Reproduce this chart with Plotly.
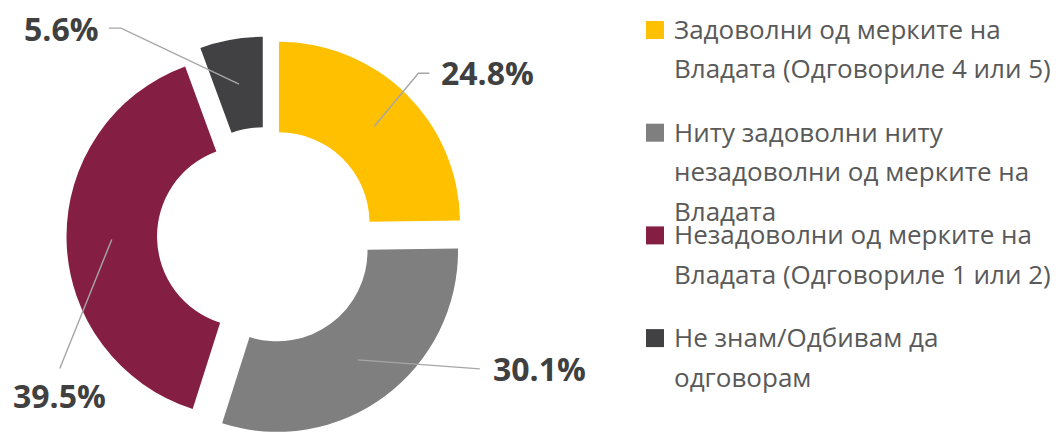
import math
import plotly.graph_objects as go

# ---- data ----
labels = [
    "Задоволни од мерките на<br>Владата (Одговориле 4 или 5)",
    "Ниту задоволни ниту<br>незадоволни од мерките на<br>Владата",
    "Незадоволни од мерките на<br>Владата (Одговориле 1 или 2)",
    "Не знам/Одбивам да<br>одговорам",
]
values = [24.8, 30.1, 39.5, 5.6]
value_text = ["24.8%", "30.1%", "39.5%", "5.6%"]
colors = ["#FFC000", "#7F7F7F", "#841F43", "#414042"]

# ---- style / layout constants ----
# the page body adds an 8px margin, so the figure is 8px smaller than the window
W, H = 1056, 429
DOM_X = [0.0, 0.48864]
DOM_Y = [0.0035, 0.93356]
PULL = 0.102
HOLE = 0.5
FONT = "Open Sans"
LABEL_FONT = dict(family=FONT, size=32, color="#404040", weight="bold")
LEGEND_FONT = dict(family=FONT, size=26, color="#595959")
LINE_COLOR = "#A6A6A6"

# legend layout (figure pixels)
LEG_SQ_X = 638
LEG_SQ = 18
LEG_TEXT_X = 664
LEG_TOP = 22
LEG_ITEM_STEP = 102.7
LEG_LINE_STEP = 39.5

fig = go.Figure()
fig.add_trace(go.Pie(
    labels=[l.replace("<br>", " ") for l in labels],
    values=values,
    marker=dict(colors=colors, line=dict(width=0)),
    hole=HOLE,
    pull=[PULL] * len(values),
    sort=False,
    direction="clockwise",
    rotation=0,
    textinfo="none",
    hoverinfo="label+percent",
    showlegend=False,
    domain=dict(x=DOM_X, y=DOM_Y),
))

# geometry derived from the pie's domain (same rule plotly uses)
cx = W * (DOM_X[0] + DOM_X[1]) / 2
cy = H * (1 - (DOM_Y[0] + DOM_Y[1]) / 2)
R = min(W * (DOM_X[1] - DOM_X[0]), H * (DOM_Y[1] - DOM_Y[0])) / 2 / (1 + PULL)
r_mid = PULL * R + (R + HOLE * R) / 2

# label placement offsets (pixels, relative to slice anchor)
label_place = [
    dict(path=[(44, -53), (55, -53)], text=(65, -54), xanchor="left"),
    dict(path=[(122, 9)], text=(133, 9), xanchor="left"),
    dict(path=[(-52, 129)], text=(-52, 156), xanchor="center"),
    dict(path=[(-118, -56), (-130, -56)], text=(-138, -56), xanchor="right"),
]


def px_to_paper(x, y):
    return x / W, 1 - y / H


total = sum(values)
cum = 0.0
shapes, annotations = [], []
for v, txt, place in zip(values, value_text, label_place):
    theta = 2 * math.pi * (cum + v / 2) / total
    cum += v
    ax = cx + r_mid * math.sin(theta)
    ay = cy - r_mid * math.cos(theta)
    pts = [(ax, ay)] + [(ax + dx, ay + dy) for dx, dy in place["path"]]
    pp = [px_to_paper(x, y) for x, y in pts]
    path = "M " + " L ".join(f"{x:.5f},{y:.5f}" for x, y in pp)
    shapes.append(dict(type="path", xref="paper", yref="paper", path=path,
                       line=dict(color=LINE_COLOR, width=1.4)))
    tx, ty = px_to_paper(ax + place["text"][0], ay + place["text"][1])
    annotations.append(dict(x=tx, y=ty, xref="paper", yref="paper", text=txt,
                            showarrow=False, xanchor=place["xanchor"], yanchor="middle",
                            font=LABEL_FONT))

# legend: colour squares + text lines
for i, (lab, col) in enumerate(zip(labels, colors)):
    yc = LEG_TOP + i * LEG_ITEM_STEP
    x0, y0 = px_to_paper(LEG_SQ_X, yc - LEG_SQ / 2)
    x1, y1 = px_to_paper(LEG_SQ_X + LEG_SQ, yc + LEG_SQ / 2)
    shapes.append(dict(type="rect", xref="paper", yref="paper",
                       x0=x0, y0=y0, x1=x1, y1=y1,
                       fillcolor=col, line=dict(width=0)))
    for j, line in enumerate(lab.split("<br>")):
        tx, ty = px_to_paper(LEG_TEXT_X, yc + j * LEG_LINE_STEP - 1)
        annotations.append(dict(x=tx, y=ty, xref="paper", yref="paper", text=line,
                                showarrow=False, xanchor="left", yanchor="middle",
                                font=LEGEND_FONT))

fig.update_layout(
    width=W, height=H,
    margin=dict(l=0, r=0, t=0, b=0),
    paper_bgcolor="white", plot_bgcolor="white",
    shapes=shapes,
    annotations=annotations,
)

fig.write_html("out.html")
